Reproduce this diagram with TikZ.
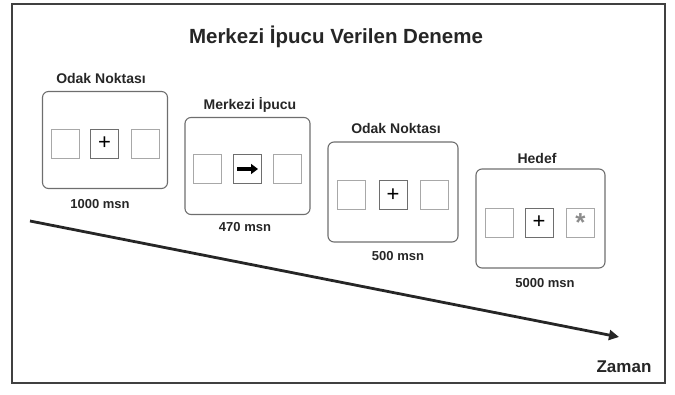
\documentclass[tikz,border=0pt]{standalone}
\usepackage{fontspec}
\setmainfont{Liberation Sans}
\usetikzlibrary{arrows.meta}
\definecolor{framegray}{HTML}{6E6E6E}
\definecolor{sqgray}{HTML}{A8A8A8}
\begin{document}
\begin{tikzpicture}[x=1pt, y=-1pt, font=\bfseries,
screen/.style={rectangle,draw=framegray,rounded corners=6pt,line width=1.1pt,minimum width=125pt,minimum height=97pt,inner sep=0pt},
side sq/.style={rectangle,draw=sqgray,line width=0.8pt,minimum width=28pt,minimum height=29pt,inner sep=0pt},
mid sq/.style={side sq,draw=framegray},
plus/.style={mid sq,font=\fontsize{22}{22}\selectfont\mdseries},
phase/.style={font=\fontsize{14}{16}\selectfont\bfseries,text=black!85},
dur/.style={font=\fontsize{13}{15}\selectfont\bfseries,text=black!85}]
\useasboundingbox (0,0) rectangle (675,395);
\draw[line width=1.2pt,black!75] (12,4) rectangle (665,383);
\node[font=\fontsize{20.5}{24}\selectfont\bfseries,text=black!85] (title) at (336,37) {Merkezi İpucu Verilen Deneme};
% screens
\begin{scope}
\node[screen] (s1) at (105,140) {};
\node[screen] (s2) at (247.5,166) {};
\node[screen,minimum width=130pt,minimum height=100pt] (s3) at (393,192) {};
\node[screen,minimum width=129pt,minimum height=99pt] (s4) at (540.5,218.5) {};
\end{scope}
% boxes in each screen
\begin{scope}
\node[side sq] (s1l) at (65.5,143.5) {};
\node[plus] (s1m) at (104.5,143.5) {+};
\node[side sq] (s1r) at (145,143.5) {};
\node[side sq] (s2l) at (207.5,169) {};
\node[mid sq] (s2m) at (247.5,169) {};
\node[side sq] (s2r) at (287,169) {};
\node[side sq] (s3l) at (351.5,195) {};
\node[plus] (s3m) at (393,195) {+};
\node[side sq] (s3r) at (434,195) {};
\node[side sq] (s4l) at (499,222.5) {};
\node[plus] (s4m) at (539,222.5) {+};
\node[side sq,text=black!45,font=\fontsize{26}{26}\selectfont\bfseries] (s4r) at (580.5,222.5) {\raisebox{-7pt}{*}};
\end{scope}
%cue arrow
\coordinate (c0) at (237,169);
\coordinate (c1) at (258,169);
\draw[line width=3.5pt,-{Triangle[length=7pt,width=10pt]}] (c0) -- (c1);
% labels
\begin{scope}
\node[phase] (p1) at (101,78) {Odak Noktası};
\node[dur] (d1) at (100,204) {1000 msn};
\node[phase] (p2) at (250,105) {Merkezi İpucu};
\node[dur] (d2) at (245,227) {470 msn};
\node[phase] (p3) at (396,128) {Odak Noktası};
\node[dur] (d3) at (398,256) {500 msn};
\node[phase] (p4) at (537,158) {Hedef};
\node[dur] (d4) at (545,283) {5000 msn};
\end{scope}
% time axis
\coordinate (t0) at (30,221);
\coordinate (t1) at (619,337);
\draw[line width=2.8pt,black!85,-{Triangle[length=10pt,width=10pt]}] (t0) -- (t1);
\node[font=\fontsize{17}{20}\selectfont\bfseries,text=black!85] (zaman) at (624,367) {Zaman};
\end{tikzpicture}
\end{document}
